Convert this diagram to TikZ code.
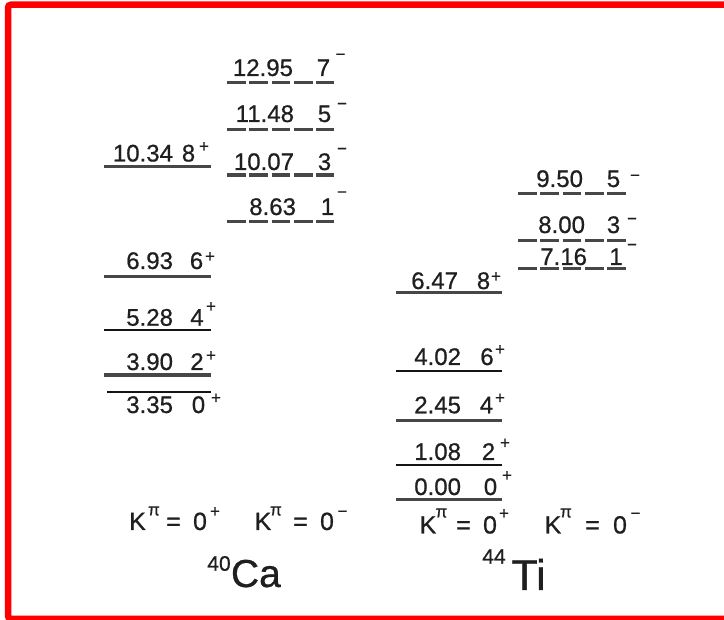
\documentclass[tikz,border=0pt]{standalone}
\usepackage{fontspec}
\setmainfont{Liberation Sans}[FakeBold=0.7]
\newcommand\mn{−}
\tikzset{
  every node/.style={inner sep=0pt, outer sep=0pt, text=black!88},
  etxt/.style={font=\fontsize{24}{28}\selectfont, anchor=base east},
  jtxt/.style={font=\fontsize{24}{28}\selectfont, anchor=base},
  suptxt/.style={font=\fontsize{17}{17}\selectfont, text height=11.9pt, text depth=0pt, anchor=center},
  ktxt/.style={font=\fontsize{25}{28}\selectfont, anchor=base},
  pitxt/.style={font=\fontsize{17}{17}\selectfont, anchor=center},
  isotxt/.style={font=\fontsize{21}{21}\selectfont, anchor=center},
  levthick/.style={line width=3.4pt, draw=black!72},
  levthin/.style={line width=2.2pt, draw=black!92},
  levdash/.style={line width=3.4pt, draw=black!72, dash pattern=on 18.6pt off 3.75pt},
  frame/.style={draw=red, line width=6.5pt, rounded corners=3pt},
}
% #1 name, #2 E, #3 E right x, #4 baseline, #5 J, #6 J centre x, #7 sup, #8 sup x, #9 sup y
\newcommand\lvl[9]{%
  \node[etxt] (#1e) at (#3,#4) {#2};
  \node[jtxt] (#1j) at (#6,#4) {#5};
  \node[suptxt] (#1s) at (#8,#9) {#7};}
% #1 name, #2 K x, #3 base, #4 pi x, #5 pi y, #6 = x, #7 0 x, #8 sup, #9 sup x
\newcommand\klab[9]{%
  \node[ktxt] (#1k) at (#2,#3) {K};
  \node[pitxt] (#1p) at (#4,#5) {π};
  \node[ktxt] (#1q) at (#6,#3) {=};
  \node[ktxt] (#1z) at (#7,#3) {0};
  \node[suptxt] (#1s) at (#9,#5) {#8};}
\begin{document}
\begin{tikzpicture}[x=1pt,y=-1pt]
\useasboundingbox (0,0) rectangle (724,620);
\fill[white] (0,0) rectangle (724,620);
\begin{scope}
  \clip (0,0) rectangle (724,620);
  \draw[frame] (8,4.7) rectangle (740,619);
\end{scope}

% ---- 40Ca, K = 0+ band
\draw[levthick] (104,166.7) -- (211,166.7);
\draw[levthick] (104,276.7) -- (211,276.7);
\draw[levthin]  (104,330) -- (211,330);
\draw[levthick] (104,375) -- (211,375);
\draw[levthin]  (107,391.7) -- (211,391.7);
\lvl{caA}{10.34}{173}{161.5}{8}{188.5}{+}{204}{146}
\lvl{caB}{6.93}{173}{269}{6}{196.5}{+}{210}{256}
\lvl{caC}{5.28}{173}{325.7}{4}{197}{+}{211}{306}
\lvl{caD}{3.90}{173}{370}{2}{197}{+}{211}{355}
\lvl{caE}{3.35}{173}{413}{0}{198.5}{+}{216}{397.5}

% ---- 40Ca, K = 0- band
\draw[levdash] (227,82.3) -- (334,82.3);
\draw[levdash] (227,129.3) -- (334,129.3);
\draw[levdash] (227,175) -- (334,175);
\draw[levdash] (227,221.7) -- (334,221.7);
\lvl{caF}{12.95}{293}{76}{7}{323.5}{\mn}{340.5}{54}
\lvl{caG}{11.48}{294}{122}{5}{324.5}{\mn}{342}{103.3}
\lvl{caH}{10.07}{294}{170}{3}{324.5}{\mn}{342}{148.3}
\lvl{caI}{8.63}{296}{215}{1}{327.5}{\mn}{342}{191.7}

% ---- 44Ti, K = 0+ band
\draw[levthick] (396,292.7) -- (502,292.7);
\draw[levthin]  (396,370.7) -- (502,370.7);
\draw[levthick] (396,420.7) -- (502,420.7);
\draw[levthin]  (396,465) -- (502,465);
\draw[levthick] (396,499.3) -- (502,499.3);
\lvl{tiA}{6.47}{458}{289}{8}{483.5}{+}{496}{276}
\lvl{tiB}{4.02}{461}{365}{6}{487}{+}{500}{349}
\lvl{tiC}{2.45}{461}{413.3}{4}{486.5}{+}{500}{397.5}
\lvl{tiD}{1.08}{461}{460}{2}{488.5}{+}{505}{442.5}
\lvl{tiE}{0.00}{461}{495}{0}{490.5}{+}{507}{475}

% ---- 44Ti, K = 0- band
\draw[levdash] (518,193.3) -- (626,193.3);
\draw[levdash] (518,240.7) -- (626,240.7);
\draw[levdash] (518,268.3) -- (626,268.3);
\lvl{tiF}{9.50}{583}{187}{5}{613.5}{\mn}{635}{175}
\lvl{tiG}{8.00}{585}{233}{3}{613.5}{\mn}{632}{218.3}
\lvl{tiH}{7.16}{587}{265}{1}{616}{\mn}{632}{244.3}

% ---- band labels
\klab{kA}{137.5}{530}{154}{511}{173.5}{200}{+}{215}
\klab{kB}{263}{530}{276}{511}{300.5}{327}{\mn}{342.5}
\klab{kC}{428}{533.5}{441.5}{513}{463.5}{490}{+}{504}
\klab{kD}{553}{533.5}{566}{513}{592.5}{620}{\mn}{635.5}

% ---- nucleus names
\node[isotxt] (camass) at (219,563.5) {40};
\node[font=\fontsize{39}{40}\selectfont, anchor=base west] (caname) at (231,587) {Ca};
\node[isotxt] (timass) at (494,556.5) {44};
\node[font=\fontsize{43}{44}\selectfont, anchor=base west] (tiname) at (511.5,590) {Ti};
\end{tikzpicture}
\end{document}
